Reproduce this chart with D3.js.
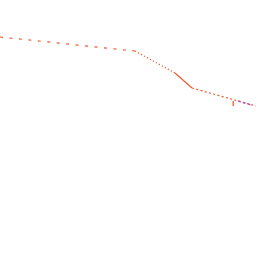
<!DOCTYPE html>
<html>
<head>
<meta charset="utf-8">
<script src="https://cdn.jsdelivr.net/npm/d3@7"></script>
<style>
  html, body { margin: 0; padding: 0; background: #fff; }
</style>
</head>
<body>
<div id="chart"></div>
<script>
// main series, split into stretches drawn with a different stroke pattern
const xs = [0, 33.75, 43.75, 48, 64]
const ys = [219, 205, 183, 168, 150]
// which stretch each segment belongs to
const stretch = ['a', 'b', 'c', 'd']
const dashes = { a: '3,6.5', b: '1.2,2.2', c: null, d: '2,2.4' }

// highlighted tail
const hiX = [59.5, 62.8]
const hiY = [155, 151]

// marker tick
const tickX = [58.3]
const tickY = [155]

const width = 256, height = 256

const svg = d3.select('#chart').append('svg')
    .attr('width', width)
    .attr('height', height)

const x = d3.scaleLinear().domain([0, 64]).range([0, width])
const y = d3.scaleLinear().domain([0, 256]).range([height, 0])

const line = d3.line().x(d => x(d[0])).y(d => y(d[1]))

const pts = xs.map((v, i) => [v, ys[i]])
const segs = stretch.map((s, i) => ({ key: s, pts: [pts[i], pts[i + 1]] }))

svg.append('g').selectAll('path')
    .data(segs)
    .enter().append('path')
    .attr('d', d => line(d.pts))
    .attr('fill', 'none')
    .attr('stroke', '#ee5a2a')
    .attr('stroke-width', 1.2)
    .attr('stroke-dasharray', d => dashes[d.key])

svg.append('path')
    .attr('d', line(hiX.map((v, i) => [v, hiY[i]])))
    .attr('fill', 'none')
    .attr('stroke', '#b060b0')
    .attr('stroke-width', 1.5)
    .attr('stroke-dasharray', '3,2')

svg.append('g').selectAll('line')
    .data(tickX)
    .enter().append('line')
    .attr('x1', d => x(d))
    .attr('x2', d => x(d))
    .attr('y1', (d, i) => y(tickY[i]))
    .attr('y2', (d, i) => y(tickY[i]) + 5)
    .attr('stroke', '#ee5a2a')
    .attr('stroke-width', 1.3)
</script>
</body>
</html>
